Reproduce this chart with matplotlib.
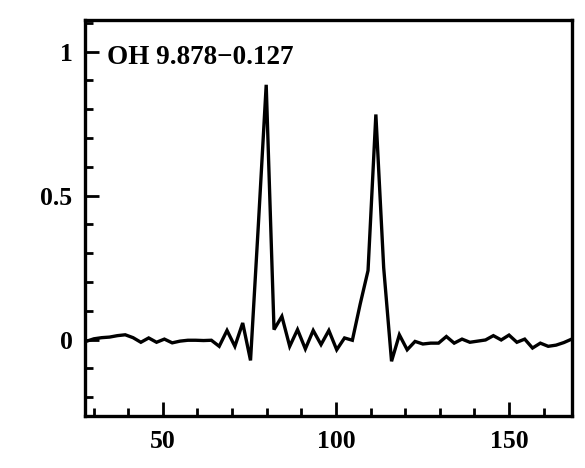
import matplotlib
matplotlib.use("Agg")
import matplotlib.pyplot as plt
from matplotlib.ticker import MultipleLocator

# Velocity channels (km/s) and flux (normalised)
velocity = [27.80, 30.06, 32.33, 34.59, 36.85, 39.12, 41.38, 43.64, 45.90, 48.17,
            50.43, 52.69, 54.96, 57.22, 59.48, 61.75, 64.01, 66.27, 68.53, 70.80,
            73.06, 75.32, 77.59, 79.85, 82.11, 84.38, 86.64, 88.90, 91.16, 93.43,
            95.69, 97.95, 100.22, 102.48, 104.74, 107.01, 109.27, 111.53, 113.79, 116.06,
            118.32, 120.58, 122.85, 125.11, 127.37, 129.64, 131.90, 134.16, 136.42, 138.69,
            140.95, 143.21, 145.48, 147.74, 150.00, 152.27, 154.53, 156.79, 159.05, 161.32,
            163.58, 165.84, 168.11]
flux = [-0.006, 0.003, 0.007, 0.009, 0.014, 0.017, 0.007, -0.009, 0.006, -0.009,
        0.002, -0.011, -0.005, -0.002, -0.002, -0.003, -0.002, -0.023, 0.032, -0.023,
        0.058, -0.072, 0.40, 0.885, 0.035, 0.081, -0.023, 0.035, -0.032, 0.032,
        -0.017, 0.032, -0.035, 0.006, -0.002, 0.124, 0.24, 0.782, 0.25, -0.075,
        0.017, -0.035, -0.006, -0.015, -0.012, -0.012, 0.011, -0.012, 0.002, -0.009,
        -0.005, -0.001, 0.014, -0.001, 0.016, -0.009, 0.002, -0.029, -0.012, -0.023,
        -0.019, -0.010, 0.002]

label = "OH 9.878\u22120.127"
xticks = [50, 100, 150]
yticks = [0, 0.5, 1]
ytick_labels = ["0", "0.5", "1"]

font = "Liberation Serif"

fig = plt.figure(figsize=(5.85, 4.68), dpi=100)
ax = fig.add_axes([0.1453, 0.1111, 0.9778 - 0.1453, 0.9573 - 0.1111])

ax.plot(velocity, flux, color="black", lw=2.4, solid_joinstyle="miter")

ax.set_xlim(27.5, 168.2)
ax.set_ylim(-0.265, 1.11)

ax.set_xticks(xticks)
ax.set_yticks(yticks)
ax.set_yticklabels(ytick_labels)
ax.xaxis.set_minor_locator(MultipleLocator(10))
ax.yaxis.set_minor_locator(MultipleLocator(0.1))

ax.tick_params(which="both", direction="in", top=False, right=False, width=2, color="black")
ax.tick_params(which="major", length=10)
ax.tick_params(which="minor", length=5.5)
ax.tick_params(axis="x", which="major", pad=10)
ax.tick_params(axis="y", which="major", pad=9)

for lab in ax.get_xticklabels() + ax.get_yticklabels():
    lab.set_fontfamily(font)
    lab.set_fontweight("bold")
    lab.set_fontsize(18.5)

for sp in ax.spines.values():
    sp.set_linewidth(2.4)

ax.text(33.9, 0.98, label, fontfamily=font, fontweight="bold", fontsize=19.5,
        va="center", ha="left")

fig.savefig("out.png", dpi=100)
